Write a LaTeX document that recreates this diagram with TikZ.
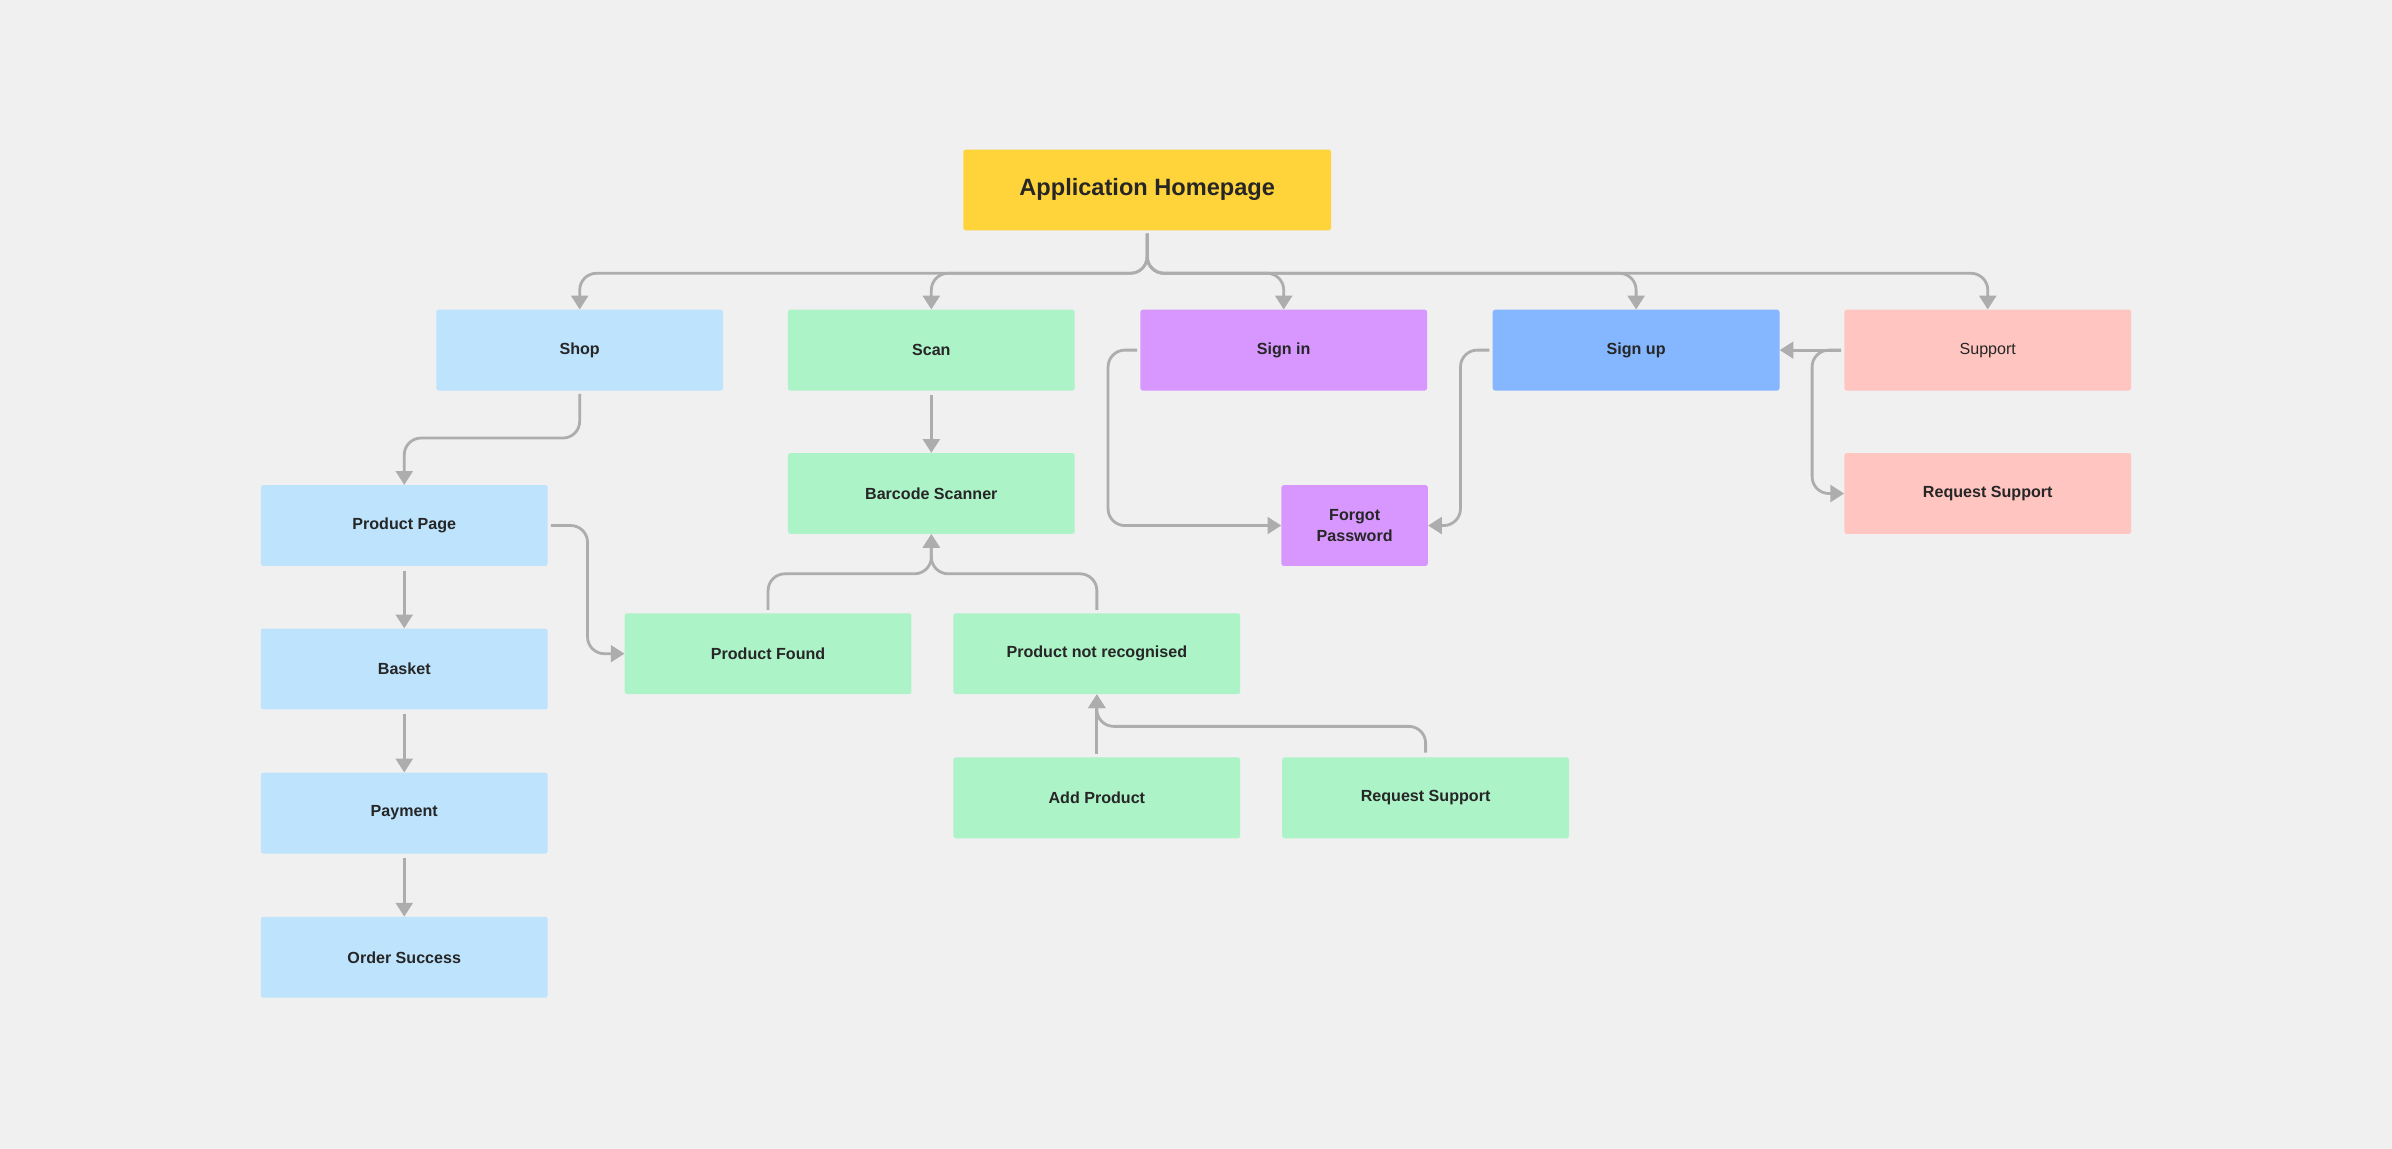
\documentclass[tikz,border=0pt]{standalone}
\usepackage{fontspec}
\setmainfont{Liberation Sans}
\usetikzlibrary{positioning,arrows.meta}
\definecolor{bg}{HTML}{F0F0F0}
\definecolor{cyellow}{HTML}{FFD43B}
\definecolor{cblue}{HTML}{BDE3FD}
\definecolor{cgreen}{HTML}{ADF3C8}
\definecolor{cpurple}{HTML}{D797FF}
\definecolor{cdblue}{HTML}{84B7FF}
\definecolor{cpink}{HTML}{FFC5C1}
\definecolor{cline}{HTML}{ADADAD}
\tikzset{
  box/.style={draw=none, rounded corners=0.08cm, minimum width=9.4cm, minimum height=2.65cm,
    align=center, font=\fontsize{15}{19}\selectfont\bfseries, text=black!85},
  conn/.style={draw=cline, line width=2.6pt, rounded corners=0.55cm,
    -{Triangle[length=0.45cm,width=0.55cm]}},
  back/.style={draw=cline, line width=2.6pt, rounded corners=0.55cm,
    {Triangle[length=0.45cm,width=0.55cm]}-}
}
\begin{document}
\begin{tikzpicture}[x=0.05cm,y=-0.05cm]
    \fill[bg] (0,0) rectangle (1568,753);

    \node[box, fill=cyellow, minimum width=12.05cm, font=\fontsize{22}{26}\selectfont\bfseries] (home) at (752,124.5) {Application Homepage};

    \node[box, fill=cblue] (shop) at (380,229.5) {Shop};
    \node[box, fill=cgreen] (scan) at (610.5,229.5) {Scan};
    \node[box, fill=cpurple] (signin) at (841.5,229.5) {Sign in};
    \node[box, fill=cdblue] (signup) at (1072.5,229.5) {Sign up};
    \node[box, fill=cpink, font=\fontsize{15}{19}\selectfont] (support) at (1303,229.5) {Support};
    \node[box, fill=cpink] (reqsup) at (1303,323.5) {Request Support};

    \node[box, fill=cgreen] (barcode) at (610.5,323.5) {Barcode Scanner};
    \node[box, fill=cblue] (prodpage) at (265,344.5) {Product Page};
    \node[box, fill=cblue] (basket) at (265,438.5) {Basket};
    \node[box, fill=cblue] (payment) at (265,533) {Payment};
    \node[box, fill=cblue] (success) at (265,627.5) {Order Success};
    \node[box, fill=cpurple, minimum width=4.8cm] (forgot) at (888,344.5) {Forgot\\Password};

    \node[box, fill=cgreen] (found) at (503.5,428.5) {Product Found};
    \node[box, fill=cgreen] (notrec) at (719,428.5) {Product not recognised};
    \node[box, fill=cgreen] (addprod) at (719,523) {Add Product};
    \node[box, fill=cgreen] (reqgreen) at (934.5,523) {Request Support};

    % homepage branches
    \foreach \n in {shop,scan,signin,signup,support}
        \draw[conn] ([yshift=-0.1cm]home.south) -- ++(0,26) -| (\n.north);

    % shop flow
    \draw[conn] ([yshift=-0.1cm]shop.south) -- ++(0,29) -| (prodpage.north);
    \draw[conn] ([yshift=-0.15cm]prodpage.south) -- (basket.north);
    \draw[conn] ([yshift=-0.15cm]basket.south) -- (payment.north);
    \draw[conn] ([yshift=-0.15cm]payment.south) -- (success.north);
    \draw[conn] ([xshift=0.1cm]prodpage.east) -| ++(24,84) -- (found.west);

    % scan flow
    \draw[conn] ([yshift=-0.15cm]scan.south) -- (barcode.north);
    \draw[back] (barcode.south) |- ++(-54,26) -| ([yshift=0.1cm]found.north);
    \draw[back] (barcode.south) |- ++(54,26) -| ([yshift=0.1cm]notrec.north);
    \draw[back] (notrec.south) -- ([yshift=0.1cm]addprod.north);
    \draw[back] (notrec.south) |- ++(54,21) -| ([yshift=0.15cm]reqgreen.north);

    % sign in / sign up
    \draw[conn] ([xshift=-0.1cm]signin.west) -| ++(-19,115) -- (forgot.west);
    \draw[conn] ([xshift=-0.1cm]signup.west) -| ++(-19,115) -- (forgot.east);

    % support
    \draw[conn] ([xshift=-0.1cm]support.west) -- (signup.east);
    \draw[conn] ([xshift=-0.1cm]support.west) -| ++(-19,94) -- (reqsup.west);
\end{tikzpicture}
\end{document}
